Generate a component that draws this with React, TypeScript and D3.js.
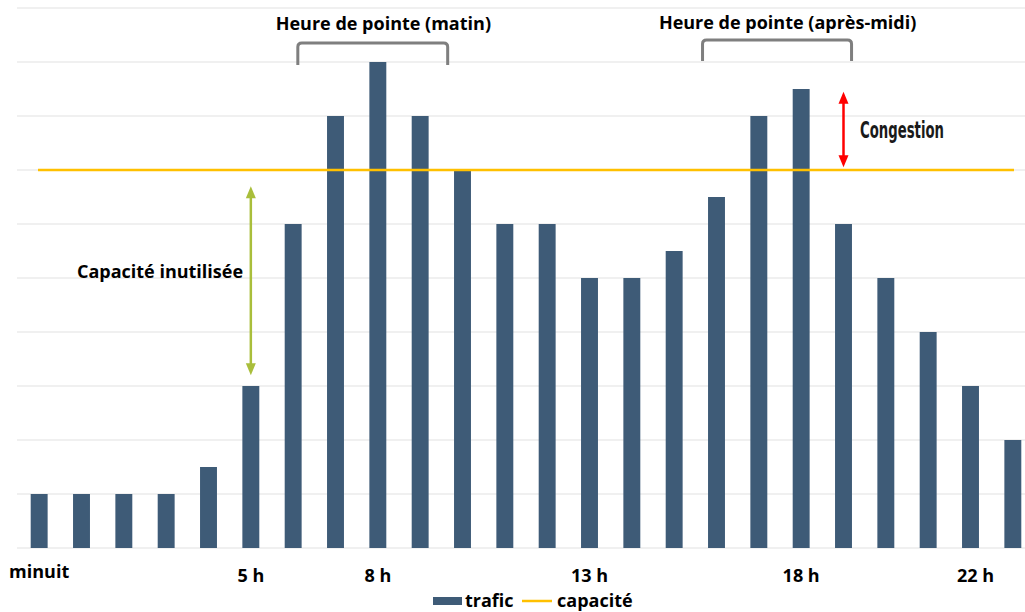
import React from 'react';
import * as d3 from 'd3';

const hours = d3.range(24);
const traffic = [1, 1, 1, 1, 1.5, 3, 6, 8, 9, 8, 7, 6, 6, 5, 5, 5.5, 6.5, 8, 8.5, 6, 5, 4, 3, 2];
const capacity = 7;
const tickHours = [0, 5, 8, 13, 18, 22];
const tickLabels = ['minuit', '5 h', '8 h', '13 h', '18 h', '22 h'];
const gridValues = d3.range(0, 11);
const peaks = [
  { label: 'Heure de pointe (matin)', from: 6.11, to: 9.65, textAt: 8.13 },
  { label: 'Heure de pointe (après-midi)', from: 15.67, to: 19.19, textAt: 17.68 },
];

const W = 1025;
const H = 612;
const BAR = '#3E5B77';
const GOLD = '#FFC000';
const FONT = '"Open Sans", sans-serif';

const App = () => {
  const x = d3
    .scaleBand<number>()
    .domain(hours)
    .range([18, 1034])
    .paddingInner(0.6)
    .paddingOuter(0.3);
  const y = d3.scaleLinear().domain([0, 10]).range([548, 8]);
  const bw = x.bandwidth();
  const cx = (h: number) => (x(h) as number) + bw / 2;
  // continuous hour position for annotations
  const hx = d3.scaleLinear().domain([0, 23]).range([cx(0), cx(23)]);

  const bracket = (x0: number, x1: number, top: number, bottom: number) => {
    const r = 4;
    return `M${x0},${bottom} L${x0},${top + r} Q${x0},${top} ${x0 + r},${top} L${x1 - r},${top} Q${x1},${top} ${x1},${top + r} L${x1},${bottom}`;
  };

  const arrow = (ax: number, y0: number, y1: number, color: string) => {
    const hw = 5;
    const hl = 12;
    return (
      <g>
        <line x1={ax} x2={ax} y1={y0 + hl - 1} y2={y1 - hl + 1} stroke={color} strokeWidth={2.5} />
        <path d={`M${ax},${y0} L${ax - hw},${y0 + hl} L${ax + hw},${y0 + hl} Z`} fill={color} />
        <path d={`M${ax},${y1} L${ax - hw},${y1 - hl} L${ax + hw},${y1 - hl} Z`} fill={color} />
      </g>
    );
  };

  return (
    <svg
      width={W}
      height={H}
      style={{ position: 'absolute', left: 0, top: 0, background: '#fff' }}
      fontFamily={FONT}
    >
      {/* grid */}
      {gridValues.map((v) => (
        <line key={v} x1={17} x2={W} y1={y(v)} y2={y(v)} stroke="#EBEBEB" strokeWidth={1.5} />
      ))}

      {/* bars */}
      {hours.map((h) => (
        <rect
          key={h}
          x={x(h)}
          y={y(traffic[h])}
          width={bw}
          height={y(0) - y(traffic[h])}
          fill={BAR}
        />
      ))}

      {/* capacity */}
      <line x1={38} x2={1014} y1={y(capacity)} y2={y(capacity)} stroke={GOLD} strokeWidth={2.5} />

      {/* x labels */}
      {tickHours.map((h, i) => (
        <text
          key={h}
          x={cx(h) + (h === 22 ? 5 : 0)}
          y={i === 0 ? 578 : 582}
          textAnchor="middle"
          fontSize={18}
          fontWeight={700}
          fill="#000"
        >
          {tickLabels[i]}
        </text>
      ))}

      {/* peak brackets */}
      {peaks.map((p, i) => (
        <g key={p.label}>
          <path
            d={bracket(hx(p.from), hx(p.to), i === 0 ? 43 : 40, i === 0 ? 65 : 61)}
            fill="none"
            stroke="#7F7F7F"
            strokeWidth={3}
          />
          <text
            x={hx(p.textAt)}
            y={i === 0 ? 30 : 29}
            textAnchor="middle"
            fontSize={18}
            fontWeight={700}
            fill="#000"
          >
            {p.label}
          </text>
        </g>
      ))}

      {/* congestion */}
      {arrow(hx(19), y(8.45), y(7.05), '#FF0000')}
      <text
        x={860}
        y={138}
        fontFamily='"Liberation Sans Narrow", "DejaVu Sans Condensed", sans-serif'
        fontWeight={700}
        fontSize={23}
        textLength={84}
        lengthAdjust="spacingAndGlyphs"
        fill="#1a1a1a"
      >
        Congestion
      </text>

      {/* unused capacity */}
      {arrow(hx(5), y(6.7), y(3.2), '#A9BE3B')}
      <text x={160} y={278} textAnchor="middle" fontSize={18} fontWeight={700} fill="#000">
        Capacité inutilisée
      </text>

      {/* legend */}
      <rect x={433} y={597} width={29} height={8} fill={BAR} />
      <text x={465} y={607} fontSize={18} fontWeight={700} fill="#000">
        trafic
      </text>
      <line x1={522} x2={552} y1={601} y2={601} stroke={GOLD} strokeWidth={2.5} />
      <text x={557} y={607} fontSize={18} fontWeight={700} fill="#000">
        capacité
      </text>
    </svg>
  );
};

export default App;
